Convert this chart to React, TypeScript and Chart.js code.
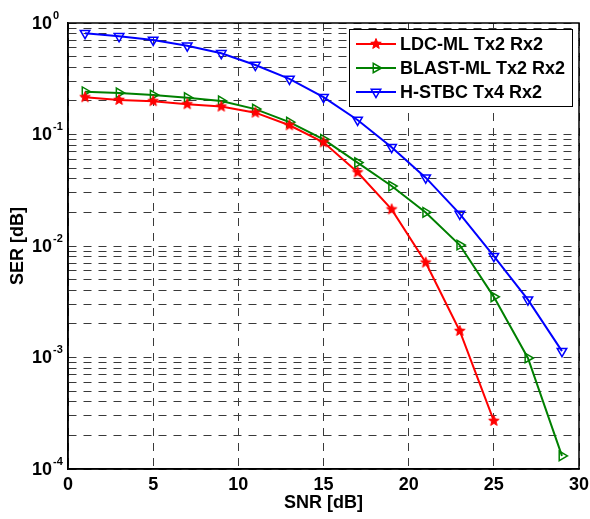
import React, { useEffect, useRef } from "react";
import { Chart, registerables } from "chart.js";

Chart.register(...registerables);

const snrLdc = [1, 3, 5, 7, 9, 11, 13, 15, 17, 19, 21, 23, 25];
const serLdc = [0.216, 0.204, 0.199, 0.187, 0.178, 0.157, 0.121, 0.085, 0.0458, 0.0213, 0.0071, 0.00173, 0.00027];

const snrBlast = [1, 3, 5, 7, 9, 11, 13, 15, 17, 19, 21, 23, 25, 27, 29];
const serBlast = [0.242, 0.236, 0.226, 0.214, 0.2, 0.169, 0.129, 0.0905, 0.056, 0.0345, 0.02, 0.0102, 0.0035, 0.00099, 0.000131];

const snrHstbc = [1, 3, 5, 7, 9, 11, 13, 15, 17, 19, 21, 23, 25, 27, 29];
const serHstbc = [0.81, 0.76, 0.704, 0.626, 0.535, 0.42, 0.315, 0.216, 0.135, 0.077, 0.041, 0.0194, 0.0081, 0.0033, 0.00114];

const seriesLabels = ["LDC-ML Tx2 Rx2", "BLAST-ML Tx2 Rx2", "H-STBC Tx4 Rx2"];
const xTicks = [0, 5, 10, 15, 20, 25, 30];
const yExponents = [0, -1, -2, -3, -4];

const FONT = "'Liberation Sans', Arial, Helvetica, sans-serif";

function makeStar(color: string): HTMLCanvasElement {
  const c = document.createElement("canvas");
  c.width = 14;
  c.height = 14;
  const g = c.getContext("2d")!;
  const cx = 7, cy = 7, ro = 5.5, ri = 2.4;
  g.beginPath();
  for (let i = 0; i < 10; i++) {
    const r = i % 2 === 0 ? ro : ri;
    const a = -Math.PI / 2 + (i * Math.PI) / 5;
    const px = cx + r * Math.cos(a);
    const py = cy + r * Math.sin(a);
    if (i === 0) g.moveTo(px, py);
    else g.lineTo(px, py);
  }
  g.closePath();
  g.fillStyle = color;
  g.strokeStyle = color;
  g.lineWidth = 1;
  g.fill();
  g.stroke();
  return c;
}

function toPts(xs: number[], ys: number[]) {
  return xs.map((x, i) => ({ x, y: ys[i] }));
}

export default function App() {
  const ref = useRef<HTMLCanvasElement | null>(null);

  useEffect(() => {
    if (!ref.current) return;
    const star = makeStar("#ff0000");

    const drawTri = (ctx: CanvasRenderingContext2D, x: number, y: number, r: number, rotDeg: number, color: string) => {
      const rad0 = (rotDeg * Math.PI) / 180;
      ctx.beginPath();
      for (let i = 0; i < 3; i++) {
        const a = rad0 + (i * 2 * Math.PI) / 3;
        const px = x + Math.sin(a) * r;
        const py = y - Math.cos(a) * r;
        if (i === 0) ctx.moveTo(px, py);
        else ctx.lineTo(px, py);
      }
      ctx.closePath();
      ctx.strokeStyle = color;
      ctx.lineWidth = 1.5;
      ctx.stroke();
    };

    const overlay = {
      id: "overlay",
      afterDraw(chart: any) {
        const ctx: CanvasRenderingContext2D = chart.ctx;
        const ca = chart.chartArea;
        const xs = chart.scales.x;
        const ys = chart.scales.y;
        ctx.save();
        // box
        ctx.strokeStyle = "#000";
        ctx.lineWidth = 1.5;
        ctx.setLineDash([]);
        ctx.strokeRect(ca.left, ca.top, ca.right - ca.left, ca.bottom - ca.top);

        ctx.fillStyle = "#000";
        // x tick labels
        ctx.font = `bold 18px ${FONT}`;
        ctx.textAlign = "center";
        ctx.textBaseline = "alphabetic";
        xTicks.forEach((v) => {
          ctx.fillText(String(v), xs.getPixelForValue(v), 490);
        });
        // y tick labels
        yExponents.forEach((e) => {
          const py = ys.getPixelForValue(Math.pow(10, e));
          ctx.font = `bold 18px ${FONT}`;
          ctx.textAlign = "left";
          ctx.fillText("10", 32, py + 5.5);
          const w = ctx.measureText("10").width;
          ctx.font = `bold 11px ${FONT}`;
          ctx.fillText(e === 0 ? "0" : "-" + Math.abs(e), 32 + w + 1, py - 4.5);
        });
        // axis titles
        ctx.font = `bold 18px ${FONT}`;
        ctx.textAlign = "center";
        ctx.fillText("SNR [dB]", (ca.left + ca.right) / 2, 508);
        ctx.save();
        ctx.translate(23, (ca.top + ca.bottom) / 2);
        ctx.rotate(-Math.PI / 2);
        ctx.fillText("SER [dB]", 0, 0);
        ctx.restore();

        // legend
        const lx = 349, ly = 29, lw = 223, lh = 77;
        ctx.fillStyle = "#fff";
        ctx.fillRect(lx, ly, lw, lh);
        ctx.strokeStyle = "#000";
        ctx.lineWidth = 1;
        ctx.strokeRect(lx + 0.5, ly + 0.5, lw, lh);
        const rows = [44, 68, 92];
        chart.data.datasets.forEach((ds: any, i: number) => {
          const y = rows[i];
          ctx.strokeStyle = ds.borderColor;
          ctx.lineWidth = 2;
          ctx.beginPath();
          ctx.moveTo(356, y);
          ctx.lineTo(396, y);
          ctx.stroke();
          if (i === 0) {
            ctx.drawImage(star, 376 - star.width / 2, y - star.height / 2);
          } else if (i === 1) {
            drawTri(ctx, 376, y, 5.5, 90, ds.borderColor);
          } else {
            drawTri(ctx, 376, y, 5.5, 180, ds.borderColor);
          }
          ctx.fillStyle = "#000";
          ctx.font = `bold 18px ${FONT}`;
          ctx.textAlign = "left";
          ctx.textBaseline = "middle";
          ctx.fillText(ds.label, 400, y + 1);
        });
        ctx.restore();
      },
    };

    const gridColor = "#3a3a3a";

    const chart = new Chart(ref.current, {
      type: "line",
      data: {
        datasets: [
          {
            label: seriesLabels[0],
            data: toPts(snrLdc, serLdc),
            borderColor: "#ff0000",
            backgroundColor: "#ff0000",
            borderWidth: 2,
            pointStyle: star as any,
            pointRadius: 5,
            tension: 0,
          },
          {
            label: seriesLabels[1],
            data: toPts(snrBlast, serBlast),
            borderColor: "#008000",
            backgroundColor: "rgba(0,0,0,0)",
            borderWidth: 2,
            pointStyle: "triangle",
            pointRotation: 90,
            pointRadius: 5.5,
            pointBorderWidth: 1.5,
            pointBackgroundColor: "rgba(0,0,0,0)",
            pointBorderColor: "#008000",
            tension: 0,
          },
          {
            label: seriesLabels[2],
            data: toPts(snrHstbc, serHstbc),
            borderColor: "#0000ff",
            backgroundColor: "rgba(0,0,0,0)",
            borderWidth: 2,
            pointStyle: "triangle",
            pointRotation: 180,
            pointRadius: 5.5,
            pointBorderWidth: 1.5,
            pointBackgroundColor: "rgba(0,0,0,0)",
            pointBorderColor: "#0000ff",
            tension: 0,
          },
        ],
      },
      options: {
        animation: false,
        responsive: true,
        maintainAspectRatio: false,
        layout: { padding: { top: 23, right: 11, left: 0, bottom: 0 } },
        plugins: {
          legend: { display: false },
          tooltip: { enabled: false },
        },
        scales: {
          x: {
            type: "linear",
            min: 0,
            max: 30,
            ticks: { display: false, stepSize: 5 },
            grid: { color: gridColor, lineWidth: 1, drawTicks: false },
            border: { display: true, color: "#000", width: 1.5, dash: [8, 7] },
            afterFit(scale: any) {
              scale.height = 50;
            },
          },
          y: {
            type: "logarithmic",
            min: 1e-4,
            max: 1,
            ticks: { display: false, autoSkip: false },
            grid: { color: gridColor, lineWidth: 1, drawTicks: false },
            border: { display: true, color: "#000", width: 1.5, dash: [8, 7] },
            afterBuildTicks(scale: any) {
              const t: any[] = [];
              for (let e = -4; e <= 0; e++) {
                for (let m = 1; m <= 9; m++) {
                  const v = m * Math.pow(10, e);
                  if (v > 1 + 1e-12) break;
                  t.push({ value: v, major: m === 1 });
                  if (e === 0) break;
                }
              }
              scale.ticks = t;
            },
            afterFit(scale: any) {
              scale.width = 68;
            },
          },
        },
      } as any,
      plugins: [overlay],
    });
    return () => chart.destroy();
  }, []);

  return (
    <div style={{ position: "fixed", left: 0, top: 0, width: 590, height: 519, background: "#fff" }}>
      <canvas ref={ref} />
    </div>
  );
}
